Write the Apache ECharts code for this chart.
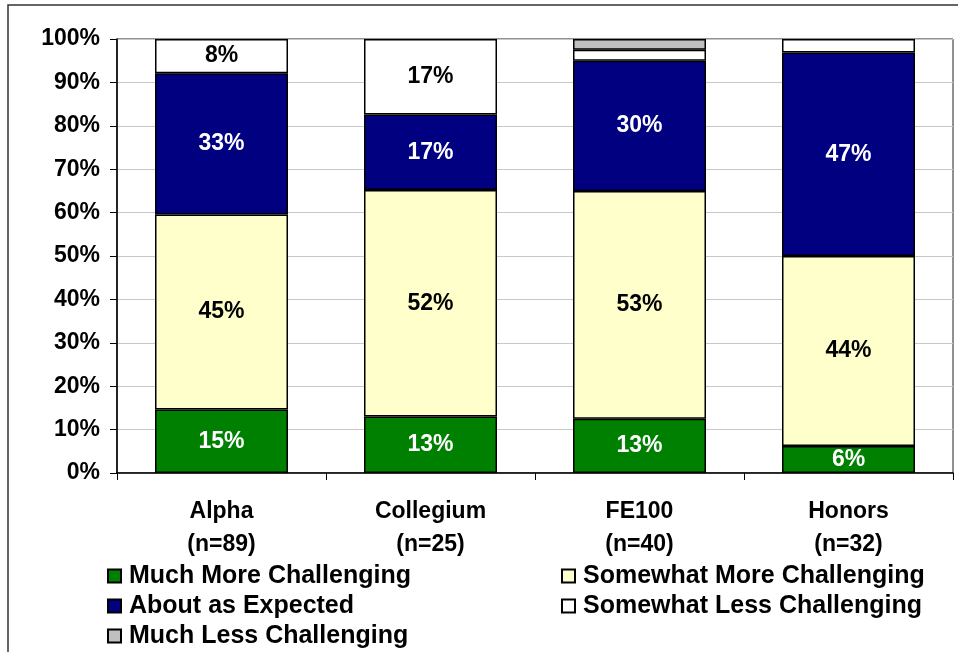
<!DOCTYPE html>
<html>
<head>
<meta charset="utf-8">
<script src="https://cdn.jsdelivr.net/npm/echarts@6/dist/echarts.min.js"></script>
<style>
  html, body { margin: 0; padding: 0; background: #fff; }
  #chart { width: 958px; height: 652px; }
</style>
</head>
<body>
<div id="chart"></div>
<script>
// 数据
var categories = ['Alpha\n(n=89)', 'Collegium\n(n=25)', 'FE100\n(n=40)', 'Honors\n(n=32)'];
var seriesNames = ['Much More Challenging', 'Somewhat More Challenging', 'About as Expected',
                   'Somewhat Less Challenging', 'Much Less Challenging'];
var muchMore     = [14.61, 13.04, 12.5, 6.25];
var somewhatMore = [44.94, 52.17, 52.5, 43.75];
var aboutAs      = [32.58, 17.39, 30.0, 46.88];
var somewhatLess = [7.87, 17.39, 2.5, 3.12];
var muchLess     = [0, 0, 2.5, 0];
var yTicks = [0, 10, 20, 30, 40, 50, 60, 70, 80, 90, 100];

var colors = ['#008000', '#FFFFCC', '#000080', '#FFFFFF', '#C0C0C0'];
var labelColors = ['#fff', '#000', '#fff', '#000', '#000'];
var allData = [muchMore, somewhatMore, aboutAs, somewhatLess, muchLess];

var font = 'Liberation Sans, Arial, sans-serif';

var chart = echarts.init(document.getElementById('chart'));

var series = seriesNames.map(function (name, i) {
    return {
        name: name,
        type: 'bar',
        stack: 'total',
        barWidth: 133,
        data: allData[i].map(function (v) { return v === 0 ? null : v; }),
        itemStyle: { color: colors[i], borderColor: '#000', borderWidth: 1.5 },
        label: {
            show: true,
            position: 'inside',
            color: labelColors[i],
            fontFamily: font,
            fontWeight: 'bold',
            fontSize: 23,
            formatter: function (p) {
                return p.value >= 5 ? Math.round(p.value) + '%' : '';
            }
        },
        emphasis: { disabled: true }
    };
});

var legendText = {
    fontFamily: font,
    fontWeight: 'bold',
    fontSize: 25,
    color: '#000',
    lineHeight: 30,
    padding: [0, 0, 0, 3]
};

var option = {
    animation: false,
    backgroundColor: '#fff',
    grid: {
        left: 117, right: 5, top: 39, bottom: 179,
        show: true, borderColor: '#222', borderWidth: 1
    },
    legend: [{
        orient: 'vertical',
        left: 107, top: 561, height: 120, padding: 0,
        itemWidth: 13, itemHeight: 13, itemGap: 0,
        icon: 'rect',
        data: [seriesNames[0], seriesNames[2], seriesNames[4]],
        textStyle: legendText
    }, {
        orient: 'vertical',
        left: 561, top: 561, height: 120, padding: 0,
        itemWidth: 13, itemHeight: 13, itemGap: 0,
        icon: 'rect',
        data: [seriesNames[1], seriesNames[3]],
        textStyle: legendText
    }],
    xAxis: {
        type: 'category',
        data: categories,
        axisLine: { lineStyle: { color: '#000', width: 1.5 } },
        axisTick: { show: true, length: 7, lineStyle: { color: '#000' } },
        axisLabel: {
            margin: 22,
            color: '#000',
            fontFamily: font,
            fontWeight: 'bold',
            fontSize: 23,
            lineHeight: 33
        }
    },
    yAxis: {
        type: 'value',
        min: yTicks[0],
        max: yTicks[yTicks.length - 1],
        interval: 10,
        axisLine: { show: true, lineStyle: { color: '#000', width: 1.5 } },
        axisTick: { show: true, length: 7, lineStyle: { color: '#000' } },
        splitLine: { lineStyle: { color: '#c8c8c8', width: 1 } },
        axisLabel: {
            margin: 17,
            color: '#000',
            fontFamily: font,
            fontWeight: 'bold',
            fontSize: 23,
            formatter: '{value}%'
        }
    },
    graphic: [{
        type: 'rect',
        silent: true,
        shape: { x: 8, y: 5, width: 1000, height: 700 },
        style: { fill: 'none', stroke: '#333', lineWidth: 1.5 }
    }],
    series: series
};

chart.setOption(option);
</script>
</body>
</html>
